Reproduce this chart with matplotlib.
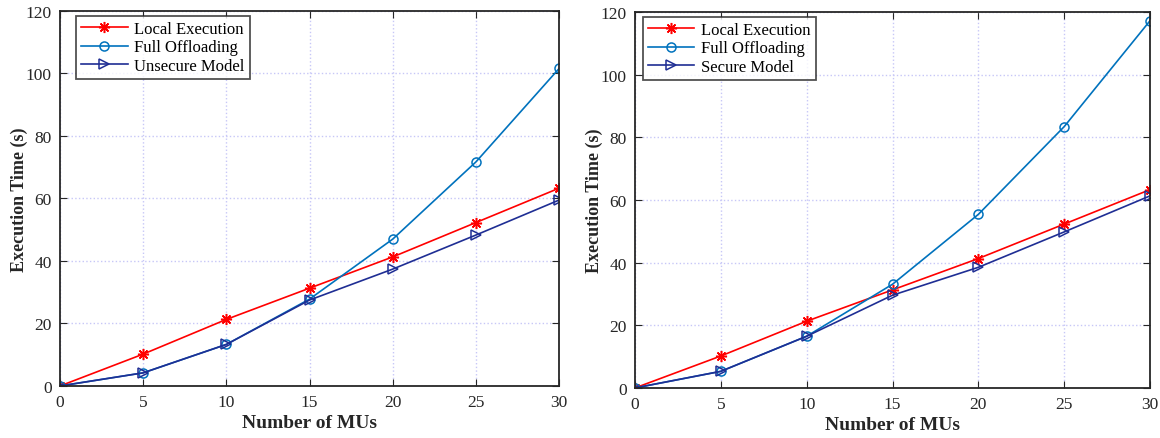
import numpy as np
import matplotlib
matplotlib.use('Agg')
import matplotlib.pyplot as plt

plt.rcParams['font.family'] = ['Liberation Serif', 'DejaVu Serif']

# data
mus = [0, 5, 10, 15, 20, 25, 30]
local_left = [0, 10.2, 21.3, 31.3, 41.3, 52.3, 63.3]
full_left = [0, 4.2, 13.3, 27.8, 47.0, 71.7, 101.6]
unsecure = [0, 4.2, 13.3, 27.5, 37.4, 48.3, 59.5]

local_right = [0, 10.2, 21.3, 31.3, 41.3, 52.3, 63.3]
full_right = [0, 5.3, 16.5, 33.1, 55.4, 83.4, 117.2]
secure = [0, 5.3, 16.5, 29.6, 38.5, 49.8, 61.3]

xticks = [0, 5, 10, 15, 20, 25, 30]
yticks = [0, 20, 40, 60, 80, 100, 120]

red = (1, 0, 0)
blue = (0, 0.447, 0.741)
navy = (0.12, 0.18, 0.58)

fig = plt.figure(figsize=(11.6, 4.39), dpi=100)
ax1 = fig.add_axes([0.0517, 0.1185, 0.4303, 0.8542])
ax2 = fig.add_axes([0.5474, 0.114, 0.4440, 0.8565])


def draw(ax, local, full, other, other_name, legx):
    # matlab style asterisk: 8 spokes
    ax.plot(mus, local, color=red, marker=(8, 2, 0), ms=8, mew=1.1, lw=1.2,
            label='Local Execution')
    ax.plot(mus, full, color=blue, marker='o', ms=6.5, mfc='none', mew=1.1,
            lw=1.2, label='Full Offloading')
    ax.plot(mus, other, color=navy, marker='>', ms=7, mfc='none', mew=1.1,
            lw=1.2, label=other_name)
    ax.set_xlim(0, 30)
    ax.set_ylim(0, 120)
    ax.set_xticks(xticks)
    ax.set_yticks(yticks)
    ax.grid(True, linestyle=':', color=(0.78, 0.78, 0.97), lw=1)
    ax.tick_params(direction='in', top=True, right=True, labelsize=12.5,
                   length=5, color='#262626', labelcolor='#262626', pad=6)
    for s in ax.spines.values():
        s.set_linewidth(1.3)
        s.set_color('#262626')
    ax.set_xlabel('Number of MUs', fontsize=14, fontweight='bold',
                  labelpad=3, color='#262626')
    ax.set_ylabel('Execution Time (s)', fontsize=13, fontweight='bold',
                  labelpad=-2, color='#262626')
    leg = ax.legend(loc='upper left', fontsize=12, frameon=True,
                    fancybox=False, edgecolor='#262626', handlelength=2.8,
                    borderpad=0.3, labelspacing=0.15, handletextpad=0.4,
                    bbox_to_anchor=(legx, 0.987), borderaxespad=0)
    leg.get_frame().set_linewidth(1.3)


draw(ax1, local_left, full_left, unsecure, 'Unsecure Model', 0.032)
draw(ax2, local_right, full_right, secure, 'Secure Model', 0.015)

fig.savefig('out.png', dpi=100)
